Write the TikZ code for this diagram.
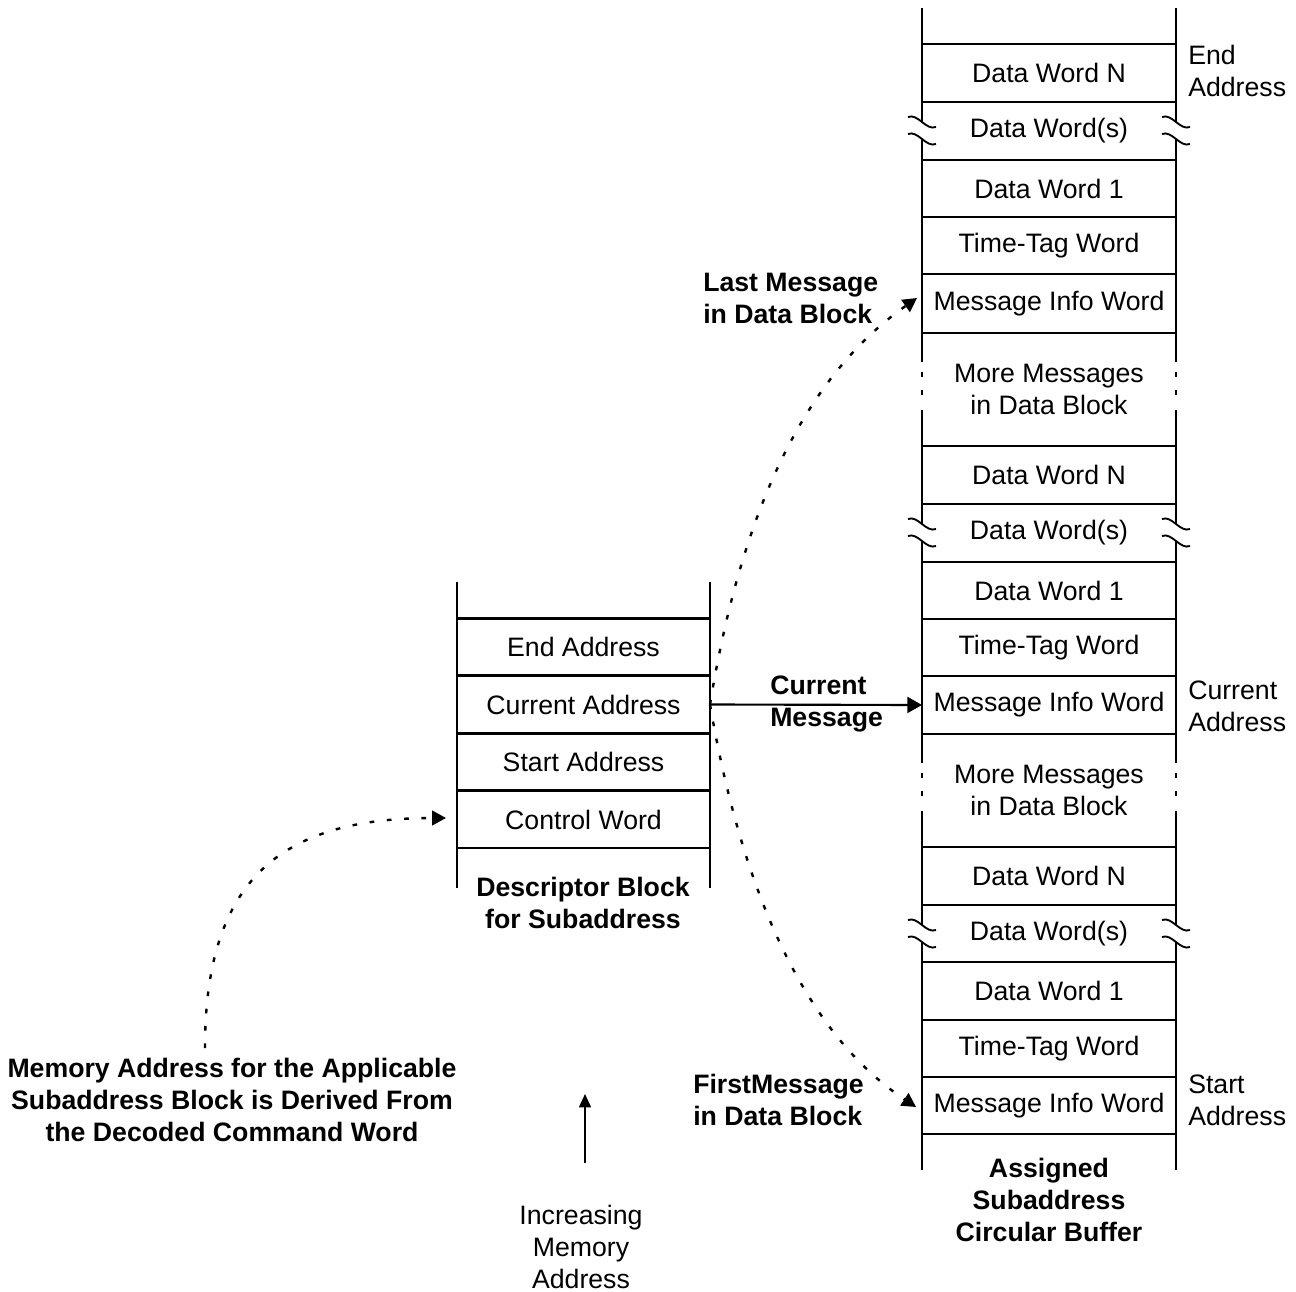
\documentclass[tikz,border=0pt]{standalone}
\usepackage{fontspec}
\setmainfont{Liberation Sans}
\usetikzlibrary{arrows.meta}
\begin{document}
\begin{tikzpicture}[x=0.75pt,y=-0.75pt,font=\fontsize{20}{24}\selectfont]
\tikzset{
 wall/.style={line width=1.9pt},
 cell/.style={minimum width=190.5pt, inner sep=0pt, outer sep=0pt, align=center},
 dcell/.style={minimum width=189.75pt, minimum height=43pt, inner sep=0pt, outer sep=0pt, align=center},
 lbl/.style={align=left, inner sep=0pt, anchor=west},
 blbl/.style={font=\fontsize{20}{24}\selectfont\bfseries, align=center, inner sep=0pt},
 bllbl/.style={font=\fontsize{20}{24}\selectfont\bfseries, align=left, inner sep=0pt, anchor=west},
 dotarrow/.style={line width=1.8pt, dash pattern=on 3.5pt off 9.5pt, -{Triangle[length=10.5pt,width=11pt]}},
 squig/.style={line width=1.4pt},
}
\useasboundingbox (0,0) rectangle (1296,1292);
% right column cells
\foreach \nm/\rt/\rb/\txt in {
 r1/44/102/{Data Word N}, r2/102/160/{Data Word(s)}, r3/160/217/{Data Word 1},
 r4/217/274/{Time-Tag Word}, r5/274/333/{Message Info Word},
 r6/333/446/{More Messages\\in Data Block},
 r7/446/504/{Data Word N}, r8/504/562/{Data Word(s)}, r9/562/619/{Data Word 1},
 r10/619/676/{Time-Tag Word}, r11/676/734/{Message Info Word},
 r12/734/847/{More Messages\\in Data Block},
 r13/847/905/{Data Word N}, r14/905/962/{Data Word(s)}, r15/962/1020/{Data Word 1},
 r16/1020/1077/{Time-Tag Word}, r17/1077/1134/{Message Info Word}}{
 \pgfmathsetmacro\hh{(\rb-\rt)*0.75}
 \node[cell, minimum height=\hh pt] (\nm) at (1049,{(\rt+\rb)/2}) {\txt};
 \draw[wall] (\nm.north west) -- (\nm.north east);
 \draw[wall] (\nm.south west) -- (\nm.south east);
}
% right column walls with breaks
\foreach \xx in {922,1176}{
 \draw[wall] (\xx,8) -- (\xx,122);
 \draw[wall] (\xx,139) -- (\xx,362);
 \draw[wall] (\xx,372) -- (\xx,377);
 \draw[wall] (\xx,390) -- (\xx,395);
 \draw[wall] (\xx,410) -- (\xx,524);
 \draw[wall] (\xx,541) -- (\xx,763);
 \draw[wall] (\xx,773) -- (\xx,778);
 \draw[wall] (\xx,791) -- (\xx,796);
 \draw[wall] (\xx,811) -- (\xx,925);
 \draw[wall] (\xx,942) -- (\xx,1170);
 \foreach \yy in {122,139,524,541,925,942}{
  \draw[squig] (\xx-14,\yy-5) .. controls (\xx-4,\yy-9) and (\xx+4,\yy+9) .. (\xx+14,\yy+5);
 }
}
% descriptor block
\node[dcell] (d1) at (583.5,647) {End Address};
\node[dcell] (d2) at (583.5,704.5) {Current Address};
\node[dcell] (d3) at (583.5,762) {Start Address};
\node[dcell] (d4) at (583.5,819.5) {Control Word};
\foreach \nm in {d1,d2,d3,d4}{
 \draw[wall] (\nm.north west) -- (\nm.north east);
 \draw[wall] (\nm.south west) -- (\nm.south east);
}
\draw[wall] (457,582) -- (457,888);
\draw[wall] (710,582) -- (710,888);
% labels
\node[blbl] (desc) at (583,903) {Descriptor Block\\for Subaddress};
\node[blbl] (asg) at (1049,1200) {Assigned\\Subaddress\\Circular Buffer};
\node[lbl] (endl) at (1188,71) {End\\Address};
\node[lbl] (curl) at (1188,706) {Current\\Address};
\node[lbl] (stl) at (1188,1100) {Start\\Address};
\node[bllbl] (lastm) at (703,298) {Last Message\\in Data Block};
\node[bllbl] (curm) at (770,704) {Current\\Message};
\node[bllbl] (firstm) at (693,1100) {FirstMessage\\in Data Block};
\node[blbl] (mem) at (232,1100) {Memory Address for the Applicable\\Subaddress Block is Derived From\\the Decoded Command Word};
\node[align=center, inner sep=0pt] (inc) at (581,1247) {Increasing\\Memory\\Address};
% connectors
\coordinate (lasttip) at (917,298);
\coordinate (firsttip) at (916,1107);
\coordinate (memstart) at (205,1048);
\coordinate (ctltip) at (446,818);
\coordinate (incstart) at (585,1163);
\coordinate (inctip) at (585,1094);
\draw[line width=1.6pt, -{Triangle[length=11pt,width=12pt]}] (d2.east) -- (r11.west);
\draw[dotarrow] (d2.east) .. controls (740,520) and (800,380) .. (lasttip);
\draw[dotarrow] (d2.east) .. controls (740,880) and (800,1030) .. (firsttip);
\draw[dotarrow] (memstart) .. controls (205,880) and (280,818) .. (ctltip);
\draw[line width=1.1pt, -{Triangle[length=10pt,width=9pt]}] (incstart) -- (inctip);
\end{tikzpicture}
\end{document}
